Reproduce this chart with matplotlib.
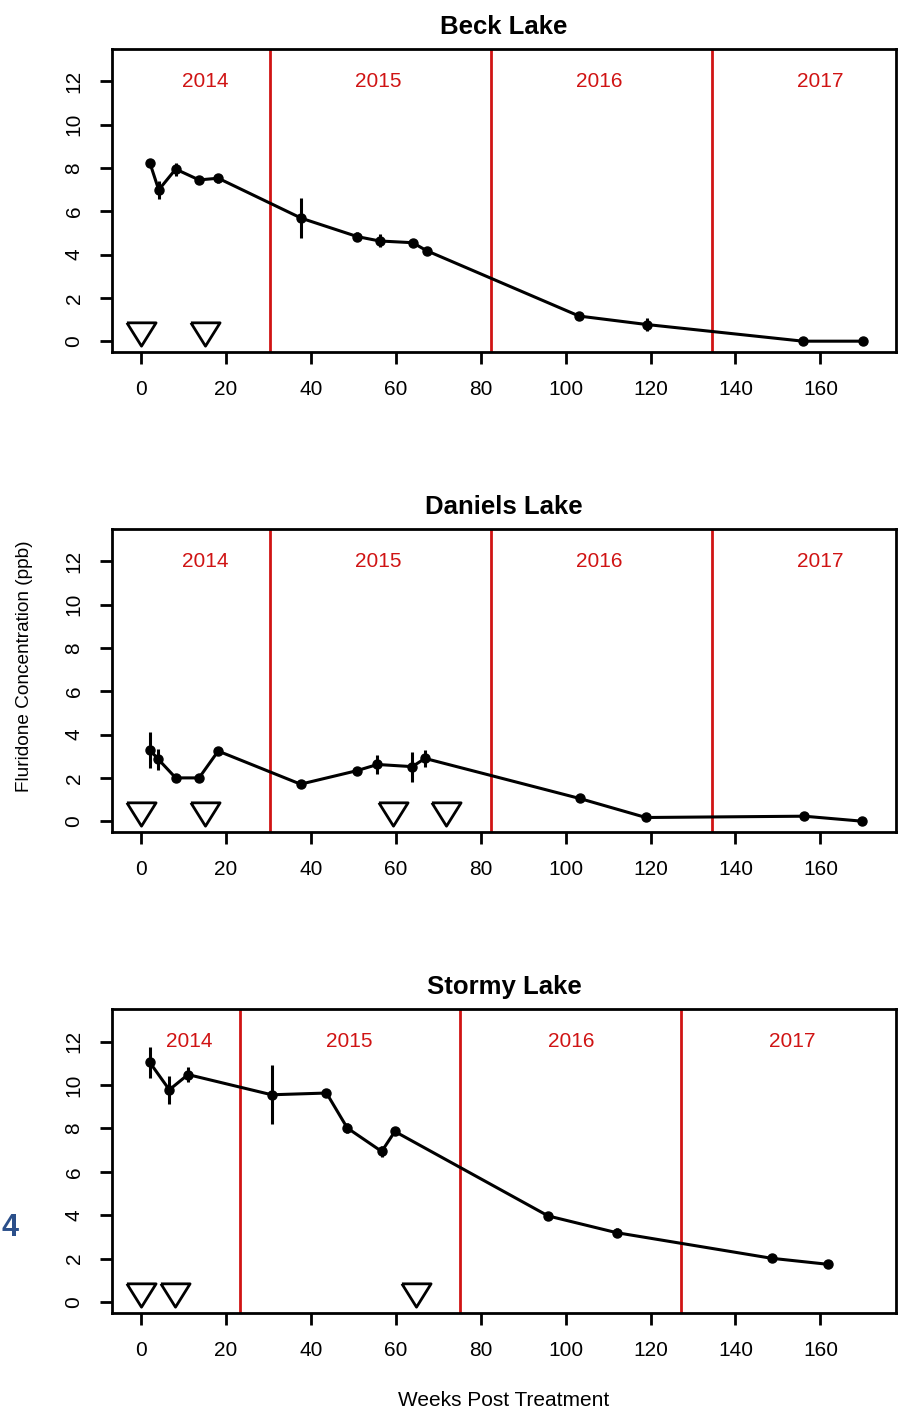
"""Fluridone concentration by lake, weeks post treatment."""
import matplotlib

matplotlib.use('Agg')
import matplotlib.pyplot as plt

plt.rcParams['font.family'] = ['Liberation Sans', 'DejaVu Sans']

# Beck Lake
beck_wk  = [2.1, 4.2, 8.2, 13.7, 18.2, 37.8, 51.0, 56.2, 64.0, 67.3, 103.2, 119.1, 155.9, 170.0]
beck_val = [8.25, 6.99, 7.95, 7.45, 7.53, 5.68, 4.83, 4.63, 4.55, 4.18, 1.16, 0.77, 0.0, 0.0]
beck_err = [0.1, 0.43, 0.3, 0.1, 0.2, 0.93, 0.2, 0.3, 0.1, 0.12, 0.1, 0.3, 0.05, 0.05]
beck_trt = [0, 15]
beck_yr  = [30.4, 82.4, 134.5]
beck_lbl = [15.1, 56.0, 108.0, 160.0]

# Daniels Lake
dan_wk  = [2.1, 4.1, 8.2, 13.7, 18.2, 37.6, 50.8, 55.7, 63.9, 66.9, 103.3, 118.9, 156.2, 169.8]
dan_val = [3.29, 2.86, 2.0, 2.0, 3.24, 1.71, 2.33, 2.62, 2.52, 2.9, 1.05, 0.17, 0.23, 0.0]
dan_err = [0.81, 0.48, 0.1, 0.1, 0.15, 0.2, 0.1, 0.45, 0.69, 0.4, 0.08, 0.08, 0.12, 0.05]
dan_trt = [0, 15, 59.4, 71.8]
dan_yr  = [30.4, 82.4, 134.5]
dan_lbl = [15.1, 56.0, 108.0, 160.0]

# Stormy Lake
st_wk  = [2.1, 6.7, 11.1, 30.8, 43.7, 48.6, 56.7, 59.8, 95.9, 112.0, 148.5, 161.9]
st_val = [11.04, 9.78, 10.48, 9.55, 9.63, 8.02, 6.94, 7.86, 3.97, 3.2, 2.02, 1.74]
st_err = [0.7, 0.65, 0.35, 1.35, 0.2, 0.25, 0.25, 0.1, 0.15, 0.2, 0.05, 0.05]
st_trt = [0, 8, 64.8]
st_yr  = [23.3, 75.1, 127.2]
st_lbl = [11.5, 49.0, 101.3, 153.4]

years = ['2014', '2015', '2016', '2017']
RED = '#d01414'
TRI = [(-1, 0.8), (1, 0.8), (0, -0.8), (-1, 0.8)]

lakes = [
    ('Beck Lake', beck_wk, beck_val, beck_err, beck_trt, beck_yr, beck_lbl),
    ('Daniels Lake', dan_wk, dan_val, dan_err, dan_trt, dan_yr, dan_lbl),
    ('Stormy Lake', st_wk, st_val, st_err, st_trt, st_yr, st_lbl),
]

fig = plt.figure(figsize=(9.02, 14.11), dpi=100)
W, H = 902, 1411
boxes = [(49, 352), (529, 832), (1009, 1313)]

for (name, wk, val, err, trt, yr, lbl), (top, bot) in zip(lakes, boxes):
    ax = fig.add_axes([112 / W, (H - bot) / H, (896 - 112) / W, (bot - top) / H])
    for x in yr:
        ax.axvline(x, color=RED, linewidth=2.0, zorder=1)
    for x, s in zip(lbl, years):
        ax.text(x, 12, s, color=RED, fontsize=15, ha='center', va='center')
    ax.errorbar(wk, val, yerr=err, color='black', linewidth=2.2, elinewidth=2.2,
                capsize=0, marker='o', markersize=6.5, zorder=3)
    ax.plot(trt, [0.34] * len(trt), linestyle='none', marker=TRI, markersize=21,
            markerfacecolor='white', markeredgecolor='black', markeredgewidth=2.0, zorder=4)
    ax.set_xlim(-6.8, 177.8)
    ax.set_ylim(-0.5, 13.5)
    ax.set_xticks(range(0, 161, 20))
    ax.set_yticks(range(0, 13, 2))
    ax.set_yticklabels([str(v) for v in range(0, 13, 2)], rotation=90, va='center')
    ax.tick_params(labelsize=15, length=8.5, width=2.0, pad=12)
    for sp in ax.spines.values():
        sp.set_linewidth(2.0)
    ax.set_title(name, fontsize=18.5, fontweight='bold', pad=11)

fig.text(25 / W, 1 - 666 / H, 'Fluridone Concentration (ppb)', rotation=90,
         ha='center', va='center', fontsize=13.7)
fig.text(504 / W, 1 - 1401 / H, 'Weeks Post Treatment', ha='center', va='center', fontsize=15)
fig.text(1 / W, 1 - 1228 / H, '4', color='#2b4f8a', fontsize=22, fontweight='bold',
         ha='left', va='center')

fig.savefig('out.png', dpi=100)
plt.close(fig)
